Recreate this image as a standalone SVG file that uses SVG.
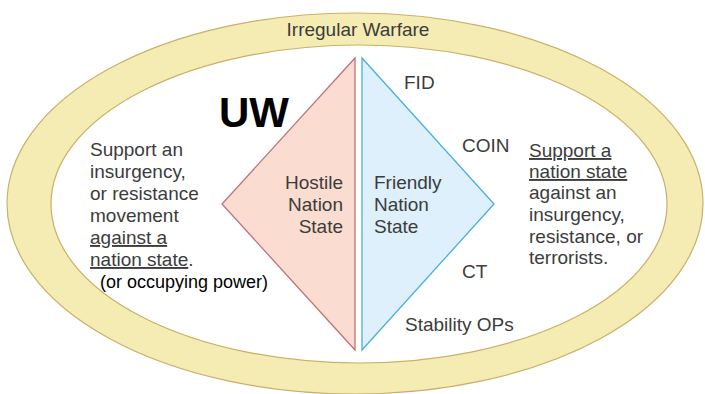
<svg xmlns="http://www.w3.org/2000/svg" width="705" height="394" viewBox="0 0 705 394">
<style>
text{font-family:"Liberation Sans",Arial,sans-serif;font-size:19px;fill:#3c3c3c}
.u{text-decoration:underline}
.k{fill:#000}
</style>
<rect width="705" height="394" fill="#ffffff"/>
<g id="irregular-warfare">
<ellipse cx="355" cy="203.5" rx="348" ry="190.5" fill="#f5ecb3" stroke="#c9b06a" stroke-width="1.2"/>
<ellipse cx="359" cy="204" rx="308" ry="159" fill="#ffffff" stroke="#c9b06a" stroke-width="1.2"/>
<text x="358" y="36" text-anchor="middle">Irregular Warfare</text>
</g>
<g id="hostile">
<polygon points="355,58 355,350 222,204" fill="#fbdcd0" stroke="#c27078" stroke-width="1.3"/>
<text x="343" y="189" text-anchor="end">Hostile</text>
<text x="343" y="211" text-anchor="end">Nation</text>
<text x="343" y="233" text-anchor="end">State</text>
</g>
<g id="friendly">
<polygon points="362,58 362,350 494,204" fill="#ddf0fb" stroke="#4aaedc" stroke-width="1.3"/>
<text x="374" y="189">Friendly</text>
<text x="374" y="211">Nation</text>
<text x="374" y="233">State</text>
</g>
<g id="uw">
<text x="219" y="127" class="k" style="font-size:42px;font-weight:bold">UW</text>
</g>
<g id="uw-desc">
<text x="90" y="156">Support an</text>
<text x="90" y="178">insurgency,</text>
<text x="90" y="200">or resistance</text>
<text x="90" y="222">movement</text>
<text x="90" y="244" class="u">against a</text>
<text x="90" y="266"><tspan class="u">nation state</tspan>.</text>
<text x="100" y="288" class="k" style="font-size:18px">(or occupying power)</text>
</g>
<g id="labels">
<text x="404" y="89">FID</text>
<text x="462" y="152">COIN</text>
<text x="462" y="278">CT</text>
<text x="405" y="331">Stability OPs</text>
</g>
<g id="fid-desc">
<text x="529" y="157" class="u">Support a</text>
<text x="529" y="178" class="u">nation state</text>
<text x="529" y="199">against an</text>
<text x="529" y="221">insurgency,</text>
<text x="529" y="243">resistance, or</text>
<text x="529" y="264">terrorists.</text>
</g>
<g id="connectors"/>
</svg>
